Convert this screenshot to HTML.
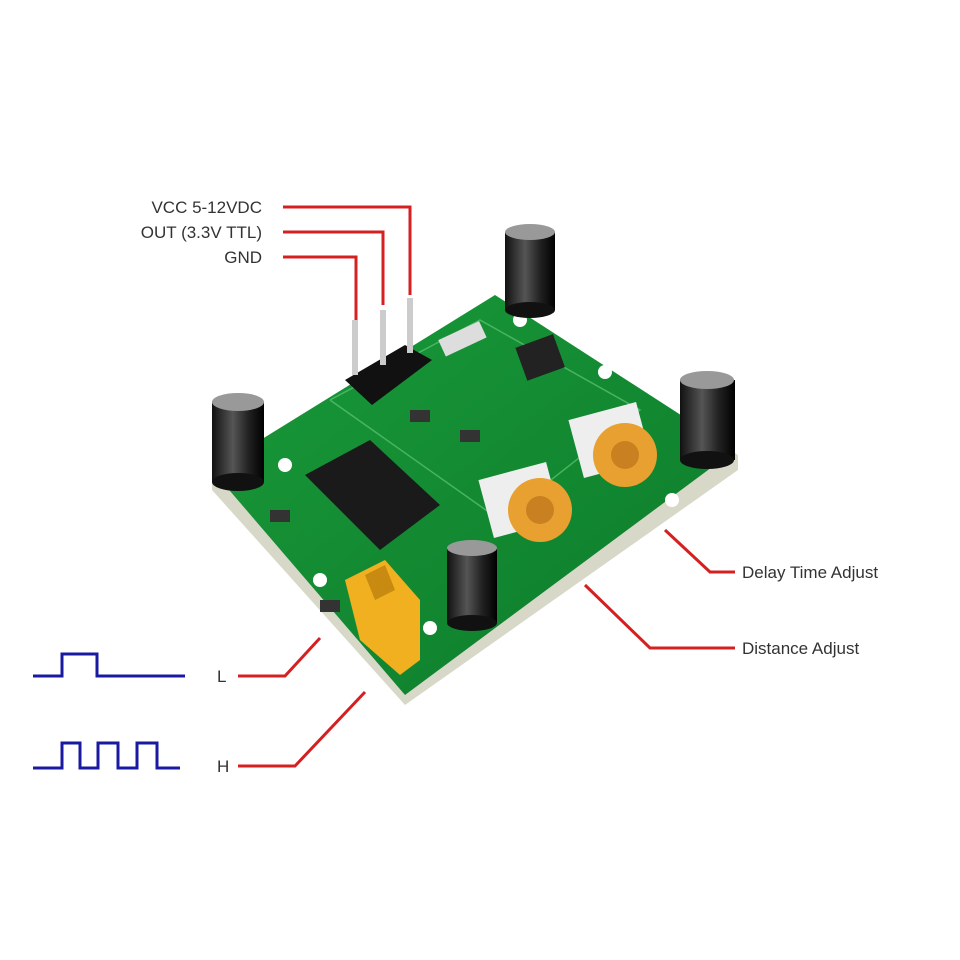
<!DOCTYPE html>
<html><head><meta charset="utf-8"><style>
html,body{margin:0;padding:0;background:#fff;}
svg{display:block}
text{font-family:"Liberation Sans",sans-serif;font-size:17px;fill:#333}
</style></head><body>
<svg width="960" height="960" viewBox="0 0 960 960" xmlns="http://www.w3.org/2000/svg">
<defs>
<linearGradient id="cap" x1="0" x2="1"><stop offset="0" stop-color="#111"/><stop offset="0.4" stop-color="#555"/><stop offset="0.7" stop-color="#222"/><stop offset="1" stop-color="#000"/></linearGradient>
<linearGradient id="pcb" x1="0" y1="0" x2="1" y2="1"><stop offset="0" stop-color="#1a9a3a"/><stop offset="1" stop-color="#0c7a2a"/></linearGradient>
</defs>
<!-- board edge -->
<polygon points="212,475 495,300 738,455 738,470 405,705 212,490" fill="#d8d8c8"/>
<polygon points="212,470 495,295 735,450 405,695" fill="url(#pcb)"/>
<polyline points="330,400 480,320 640,410 500,520 330,400" fill="none" stroke="#6ccf80" stroke-width="1.5" opacity=".6"/>
<!-- holes -->
<circle cx="285" cy="465" r="7" fill="#fff"/><circle cx="320" cy="580" r="7" fill="#fff"/>
<circle cx="430" cy="628" r="7" fill="#fff"/><circle cx="520" cy="320" r="7" fill="#fff"/>
<circle cx="605" cy="372" r="7" fill="#fff"/><circle cx="672" cy="500" r="7" fill="#fff"/>
<!-- IC -->
<polygon points="305,475 370,440 440,505 380,550" fill="#1a1a1a"/>
<!-- small parts -->
<rect x="520" y="340" width="40" height="35" fill="#222" transform="rotate(-20 540 357)"/>
<rect x="440" y="330" width="45" height="18" fill="#ddd" transform="rotate(-25 462 339)"/>
<rect x="410" y="410" width="20" height="12" fill="#333"/><rect x="460" y="430" width="20" height="12" fill="#333"/>
<rect x="270" y="510" width="20" height="12" fill="#333"/><rect x="320" y="600" width="20" height="12" fill="#333"/>
<!-- header pins -->
<polygon points="345,380 405,345 432,360 372,405" fill="#111"/>
<rect x="352" y="320" width="6" height="55" fill="#ccc"/><rect x="380" y="310" width="6" height="55" fill="#ccc"/><rect x="407" y="298" width="6" height="55" fill="#ccc"/>
<!-- pots -->
<rect x="485" y="470" width="70" height="60" fill="#eee" transform="rotate(-15 520 500)"/>
<circle cx="540" cy="510" r="32" fill="#e8a030"/><circle cx="540" cy="510" r="14" fill="#c98020"/>
<rect x="575" y="410" width="70" height="60" fill="#eee" transform="rotate(-15 610 440)"/>
<circle cx="625" cy="455" r="32" fill="#e8a030"/><circle cx="625" cy="455" r="14" fill="#c98020"/>
<!-- jumper -->
<polygon points="345,580 385,560 420,600 420,660 400,675 360,640" fill="#f0b020"/>
<polygon points="365,575 385,565 395,590 375,600" fill="#c88a10"/>
<!-- capacitors -->
<g><rect x="505" y="232" width="50" height="78" fill="url(#cap)"/><ellipse cx="530" cy="232" rx="25" ry="8" fill="#999"/><ellipse cx="530" cy="310" rx="25" ry="8" fill="#111"/></g>
<g><rect x="212" y="402" width="52" height="80" fill="url(#cap)"/><ellipse cx="238" cy="402" rx="26" ry="9" fill="#999"/><ellipse cx="238" cy="482" rx="26" ry="9" fill="#111"/></g>
<g><rect x="680" y="380" width="55" height="80" fill="url(#cap)"/><ellipse cx="707" cy="380" rx="27" ry="9" fill="#999"/><ellipse cx="707" cy="460" rx="27" ry="9" fill="#111"/></g>
<g><rect x="447" y="548" width="50" height="75" fill="url(#cap)"/><ellipse cx="472" cy="548" rx="25" ry="8" fill="#999"/><ellipse cx="472" cy="623" rx="25" ry="8" fill="#111"/></g>
<!-- red lines -->
<g fill="none" stroke="#d42020" stroke-width="3">
<polyline points="283,207 410,207 410,295"/>
<polyline points="283,232 383,232 383,305"/>
<polyline points="283,257 356,257 356,320"/>
<polyline points="665,530 710,572 735,572"/>
<polyline points="585,585 650,648 735,648"/>
<polyline points="238,676 285,676 320,638"/>
<polyline points="238,766 295,766 365,692"/>
</g>
<!-- waveforms -->
<g fill="none" stroke="#1a1aa0" stroke-width="3">
<polyline points="33,676 62,676 62,654 97,654 97,676 185,676"/>
<polyline points="33,768 62,768 62,743 80,743 80,768 98,768 98,743 118,743 118,768 137,768 137,743 157,743 157,768 180,768"/>
</g>
<text x="262" y="213" text-anchor="end">VCC 5-12VDC</text>
<text x="262" y="238" text-anchor="end">OUT (3.3V TTL)</text>
<text x="262" y="263" text-anchor="end">GND</text>
<text x="742" y="578">Delay Time Adjust</text>
<text x="742" y="654">Distance Adjust</text>
<text x="217" y="682">L</text>
<text x="217" y="772">H</text>
</svg>
</body></html>
